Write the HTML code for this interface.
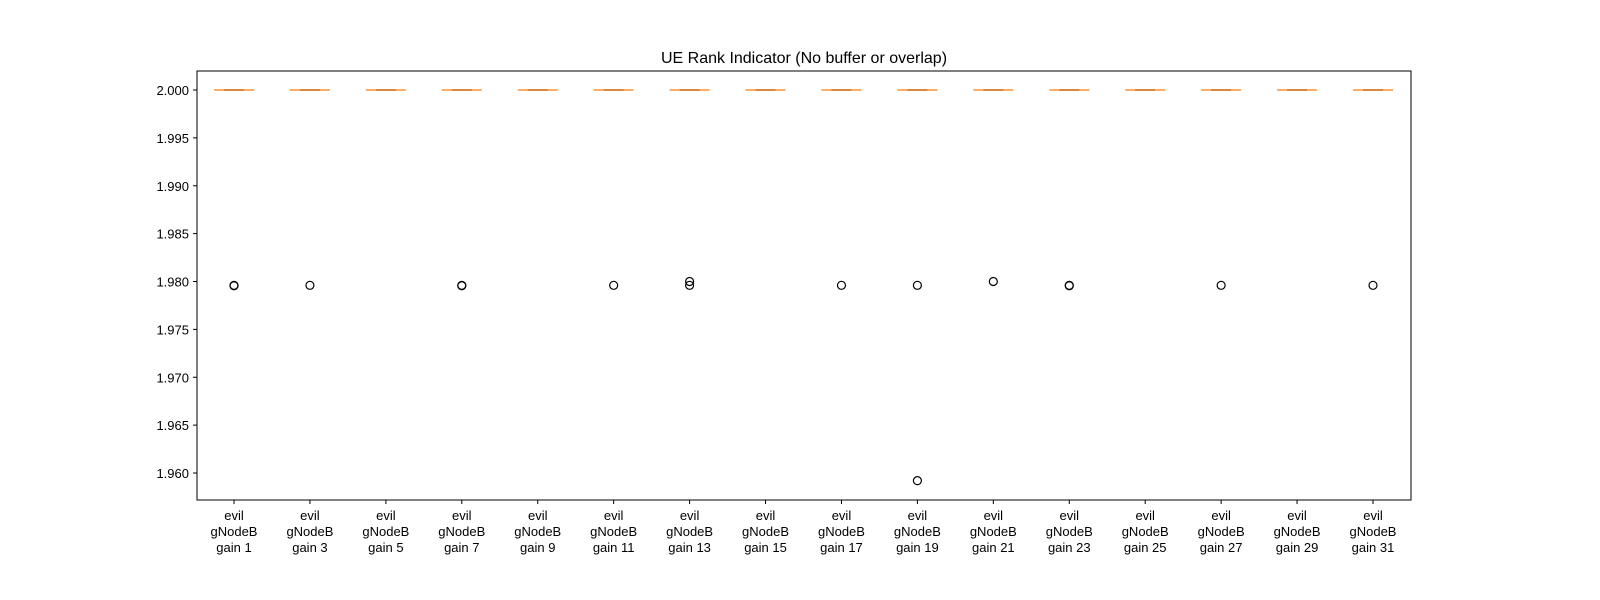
<!DOCTYPE html>
<html><head><meta charset="utf-8"><style>body{margin:0;background:#fff}svg{display:block;font-family:"Liberation Sans","DejaVu Sans",sans-serif}</style></head>
<body>
<svg id="chart" width="1600" height="600">
<text x="804" y="63" font-size="16" text-anchor="middle">UE Rank Indicator (No buffer or overlap)</text>
<g id="plot"></g>
<rect x="197" y="71" width="1214" height="429" fill="none" stroke="#000" stroke-width="1"/>
</svg>
<script>
const categories=[1,3,5,7,9,11,13,15,17,19,21,23,25,27,29,31];
const medians=[2,2,2,2,2,2,2,2,2,2,2,2,2,2,2,2];
const outliers=[[1.9796,1.97955],[1.9796],[],[1.9796,1.97955],[],[1.9796],[1.98,1.9796],[],[1.9796],[1.9796,1.9592],[1.98],[1.9796,1.97955],[],[1.9796],[],[1.9796]];
const yTicks=[2.000,1.995,1.990,1.985,1.980,1.975,1.970,1.965,1.960];
const NS="http://www.w3.org/2000/svg";
const g=document.getElementById('plot');
const y=v=>90+(2.0-v)/0.005*47.875;
const x=i=>234+i*(1373-234)/15;
function mk(t,a){const e=document.createElementNS(NS,t);for(const k in a)e.setAttribute(k,a[k]);g.appendChild(e);return e;}
yTicks.forEach(v=>{
 const l=mk('line',{x1:193,x2:197,y1:y(v),y2:y(v),stroke:'#000'});
 
 
 const t=mk('text',{x:189,y:y(v)+5,'font-size':13,'text-anchor':'end'});t.textContent=v.toFixed(3);
 
 
});
categories.forEach((c,i)=>{
 const cx=x(i);
 const tk=mk('line',{x1:cx,x2:cx,y1:500,y2:504,stroke:'#000'});
 
 
 const t=mk('text',{x:cx,y:520,'font-size':13,'text-anchor':'middle'});
 
 
 ['evil','gNodeB','gain '+c].forEach((s,j)=>{const ts=document.createElementNS(NS,'tspan');ts.setAttribute('x',cx);ts.setAttribute('dy',j?16:0);ts.textContent=s;t.appendChild(ts);});
 const cap=mk('line',{x1:cx-10,x2:cx+10,y1:y(medians[i]),y2:y(medians[i]),stroke:'#555','stroke-width':1.5});
 
 
 const m=mk('line',{x1:cx-20,x2:cx+20,y1:y(medians[i]),y2:y(medians[i]),stroke:'#ff7f0e','stroke-width':1.5,opacity:0.85});
 
 
 outliers[i].forEach(v=>{
  const o=mk('circle',{cx:cx,cy:y(v),r:4,fill:'none',stroke:'#000','stroke-width':1.2});
  
  
 });
});
</script>
</body></html>
